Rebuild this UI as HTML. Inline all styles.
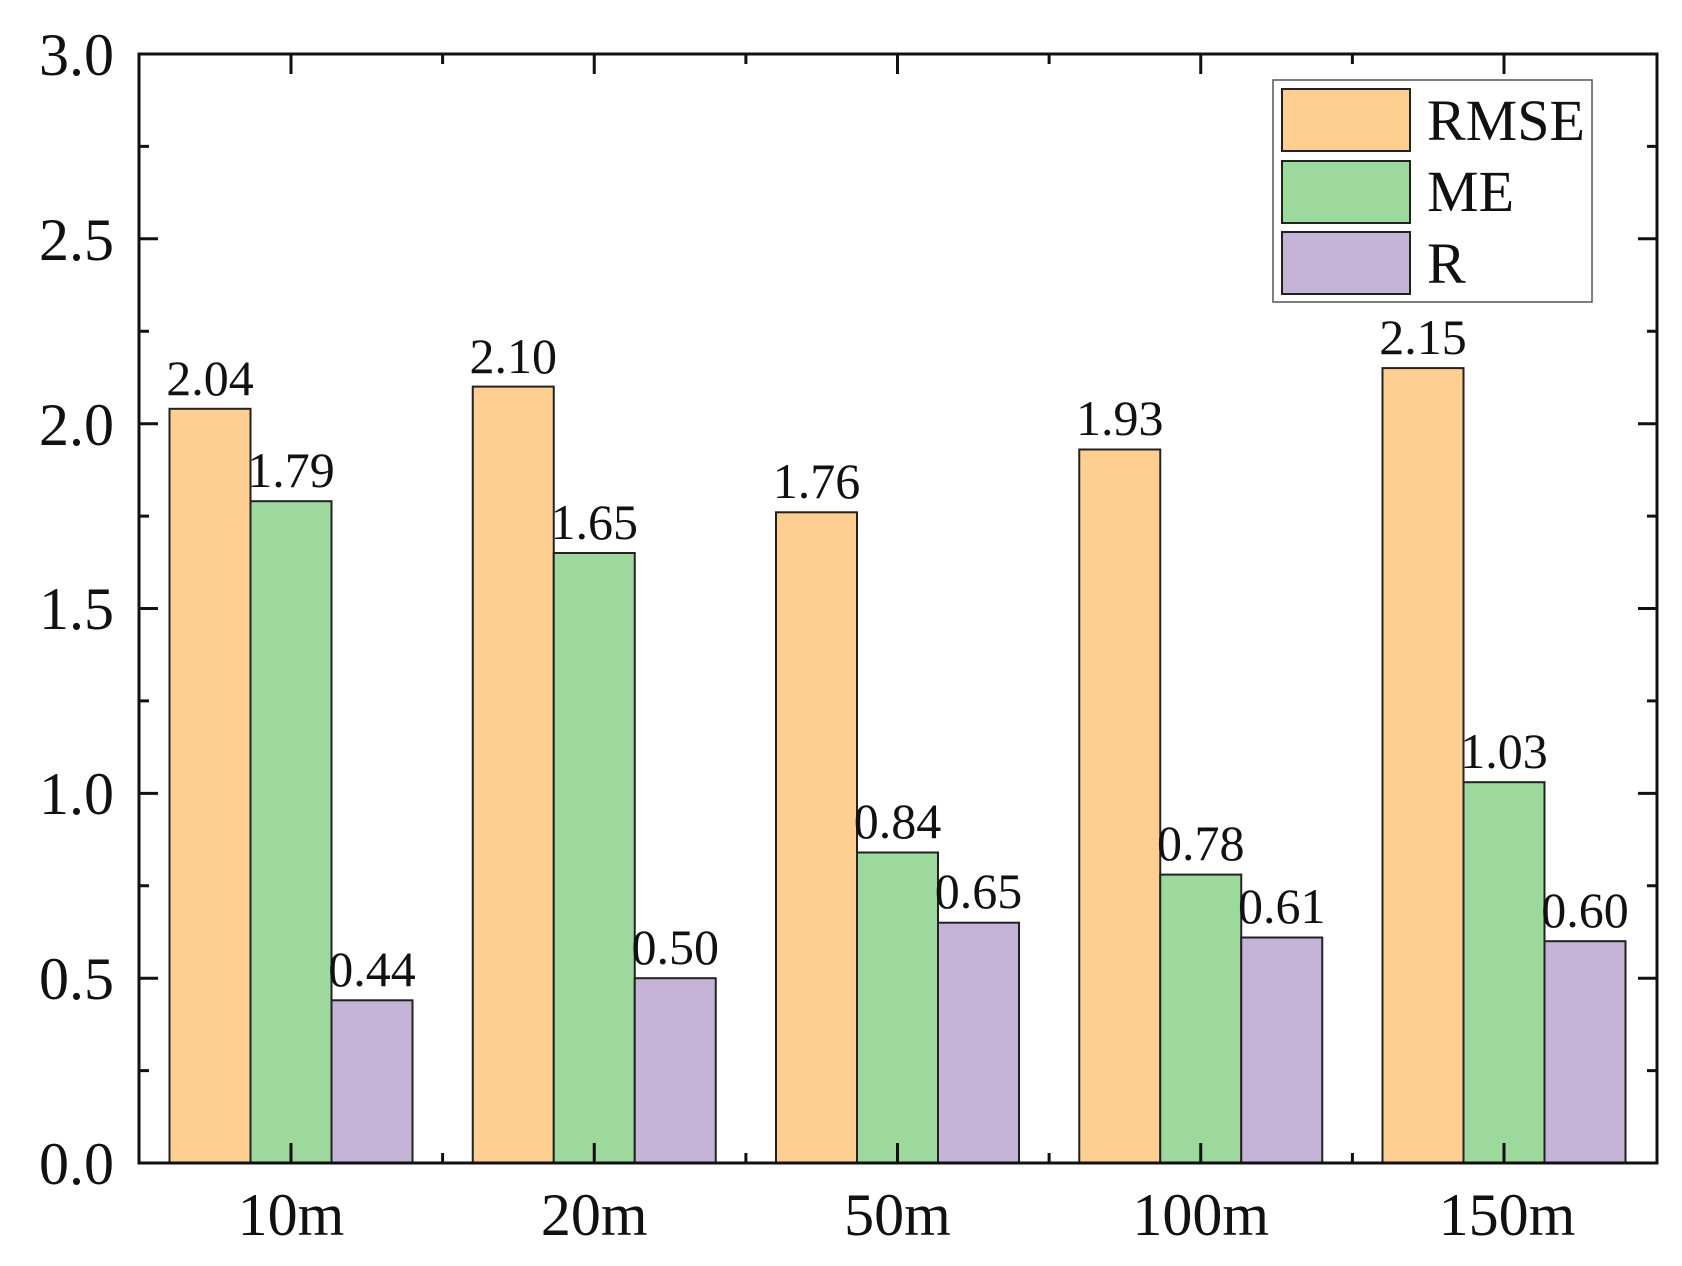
<!DOCTYPE html>
<html><head><meta charset="utf-8"><style>html,body{margin:0;padding:0;background:#fff}svg{display:block}</style></head>
<body>
<svg width="1682" height="1266" viewBox="0 0 1682 1266" xmlns="http://www.w3.org/2000/svg" font-family="Liberation Serif, serif">
<g stroke="#222" stroke-width="2">
<rect x="169.5" y="408.8" width="81" height="754.2" fill="#FFCF91"/>
<rect x="250.5" y="501.2" width="81" height="661.8" fill="#9DD89C"/>
<rect x="331.5" y="1000.3" width="81" height="162.7" fill="#C5B3D8"/>
<rect x="472.75" y="386.6" width="81" height="776.4" fill="#FFCF91"/>
<rect x="553.75" y="553.0" width="81" height="610" fill="#9DD89C"/>
<rect x="634.75" y="978.2" width="81" height="184.8" fill="#C5B3D8"/>
<rect x="776" y="512.3" width="81" height="650.7" fill="#FFCF91"/>
<rect x="857" y="852.5" width="81" height="310.5" fill="#9DD89C"/>
<rect x="938" y="922.7" width="81" height="240.3" fill="#C5B3D8"/>
<rect x="1079.25" y="449.5" width="81" height="713.5" fill="#FFCF91"/>
<rect x="1160.25" y="874.6" width="81" height="288.4" fill="#9DD89C"/>
<rect x="1241.25" y="937.5" width="81" height="225.5" fill="#C5B3D8"/>
<rect x="1382.5" y="368.1" width="81" height="794.9" fill="#FFCF91"/>
<rect x="1463.5" y="782.2" width="81" height="380.8" fill="#9DD89C"/>
<rect x="1544.5" y="941.2" width="81" height="221.8" fill="#C5B3D8"/>
</g>
<g font-size="50" text-anchor="middle" fill="#111">
<text x="210" y="395">2.04</text><text x="291" y="487">1.79</text><text x="372" y="986">0.44</text>
<text x="513.25" y="373">2.10</text><text x="594.25" y="539">1.65</text><text x="675.25" y="964">0.50</text>
<text x="816.5" y="498">1.76</text><text x="897.5" y="838">0.84</text><text x="978.5" y="908">0.65</text>
<text x="1119.75" y="435">1.93</text><text x="1200.75" y="860">0.78</text><text x="1281.75" y="923">0.61</text>
<text x="1423" y="354">2.15</text><text x="1504" y="768">1.03</text><text x="1585" y="927">0.60</text>
</g>
<g stroke="#111" stroke-width="3" fill="none">
<rect x="139" y="54" width="1518" height="1109"/>
<path d="M139 1163h19M139 978.2h19M139 793.4h19M139 608.5h19M139 423.7h19M139 238.8h19M139 54h19
M139 1070.6h10M139 885.8h10M139 700.9h10M139 516.1h10M139 331.2h10M139 146.4h10
M1657 1163h-19M1657 978.2h-19M1657 793.4h-19M1657 608.5h-19M1657 423.7h-19M1657 238.8h-19M1657 54h-19
M1657 1070.6h-10M1657 885.8h-10M1657 700.9h-10M1657 516.1h-10M1657 331.2h-10M1657 146.4h-10
M291 1163v-20M594.25 1163v-20M897.5 1163v-20M1200.75 1163v-20M1504 1163v-20
M442.6 1163v-10M745.9 1163v-10M1049.1 1163v-10M1352.4 1163v-10
M291 54v20M594.25 54v20M897.5 54v20M1200.75 54v20M1504 54v20
M442.6 54v10M745.9 54v10M1049.1 54v10M1352.4 54v10"/>
</g>
<g font-size="60" text-anchor="end" fill="#111">
<text x="114" y="1184">0.0</text><text x="114" y="999">0.5</text><text x="114" y="814">1.0</text>
<text x="114" y="629">1.5</text><text x="114" y="445">2.0</text><text x="114" y="260">2.5</text><text x="114" y="75">3.0</text>
</g>
<g font-size="60" text-anchor="middle" fill="#111">
<text x="291" y="1235">10m</text><text x="594.25" y="1235">20m</text><text x="897.5" y="1235">50m</text>
<text x="1200.75" y="1235">100m</text><text x="1507" y="1235">150m</text>
</g>
<rect x="1273" y="80" width="319" height="222" fill="#fff" stroke="#555" stroke-width="1.5"/>
<g stroke="#222" stroke-width="2">
<rect x="1282" y="89" width="128" height="62" fill="#FFCF91"/>
<rect x="1282" y="161" width="128" height="62" fill="#9DD89C"/>
<rect x="1282" y="232" width="128" height="62" fill="#C5B3D8"/>
</g>
<g font-size="58" fill="#111">
<text x="1427" y="140">RMSE</text><text x="1427" y="211">ME</text><text x="1427" y="283">R</text>
</g>
</svg>
</body></html>
